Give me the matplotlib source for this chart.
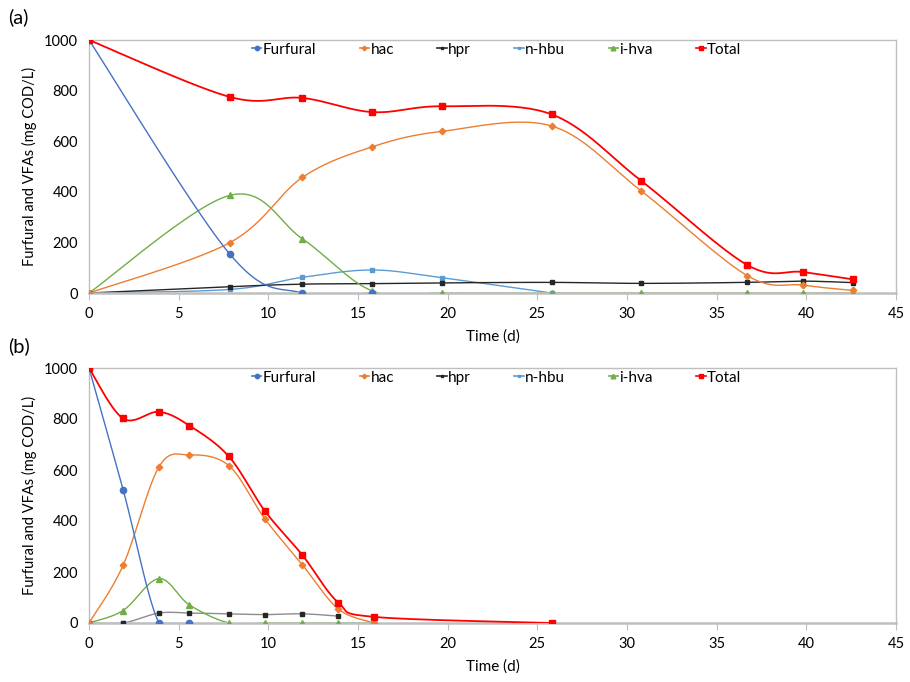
import numpy as np
import matplotlib
matplotlib.use("Agg")
import matplotlib.pyplot as plt
from matplotlib.lines import Line2D

plt.rcParams['font.family'] = ['Lato', 'DejaVu Sans']

# ---------------- Data: panel (a) ----------------
a_t = [0, 7.85, 11.9, 15.8, 19.7, 25.8, 30.8, 36.7, 39.8, 42.6]
a_furfural_t = [0, 7.85, 11.9, 15.8]
a_furfural = [1000, 154, 0, 0]
a_hac = [0, 199, 457, 578, 639, 660, 403, 69, 31, 10]
a_hpr = [0, 25, 35, 37, 40, 42, 38, 42, 47, 41]
a_nhbu_t = [0, 7.85, 11.9, 15.8, 19.7, 25.8]
a_nhbu = [0, 14, 62, 91, 60, 0]
a_ihva = [0, 386, 214, 8, 0, 0, 0, 0, 0, 0]
a_total = [1000, 775, 771, 715, 738, 706, 443, 111, 83, 54]

# ---------------- Data: panel (b) ----------------
b_t = [0, 1.9, 3.9, 5.6, 7.8, 9.8, 11.9, 13.9, 15.9, 25.8]
b_furfural_t = [0, 1.9, 3.9, 5.6]
b_furfural = [1000, 523, 0, 0]
b_hac_t = [0, 1.9, 3.9, 5.6, 7.8, 9.8, 11.9, 13.9, 15.9]
b_hac = [0, 226, 612, 659, 617, 409, 228, 55, 0]
b_hpr_t = [0, 1.9, 3.9, 5.6, 7.8, 9.8, 11.9, 13.9]
b_hpr = [0, 0, 39, 39, 36, 33, 36, 27]
b_nhbu_t = [0, 1.9, 3.9, 5.6]
b_nhbu = [0, 0, 0, 0]
b_ihva_t = [0, 1.9, 3.9, 5.6, 7.8, 9.8, 11.9, 13.9, 15.9]
b_ihva = [0, 49, 174, 71, 0, 0, 0, 0, 0]
b_total = [1000, 802, 828, 774, 653, 440, 266, 80, 24, 0]

names = ["Furfural", "hac", "hpr", "n-hbu", "i-hva", "Total"]
colors = ["#4472C4", "#ED7D31", "#262626", "#5B9BD5", "#70AD47", "#FF0000"]
markers = ["o", "D", "s", "s", "^", "s"]
msizes = [4.5, 3.3, 3.0, 3.0, 4.8, 5.0]


def smooth(x, y, n=30):
    """Excel-style smoothed line (Bezier through points)."""
    x = np.asarray(x, float)
    y = np.asarray(y, float)
    if len(x) < 3:
        return x, y
    P = np.column_stack([x, y])
    Pe = np.vstack([P[0], P, P[-1]])
    out = []
    s = np.linspace(0, 1, n)
    for i in range(len(P) - 1):
        p0, p1, p2, p3 = Pe[i], Pe[i + 1], Pe[i + 2], Pe[i + 3]
        c1 = p1 + (p2 - p0) / 6.0
        c2 = p2 - (p3 - p1) / 6.0
        seg = ((1 - s)[:, None] ** 3 * p1 + 3 * ((1 - s) ** 2 * s)[:, None] * c1
               + 3 * ((1 - s) * s ** 2)[:, None] * c2 + (s ** 3)[:, None] * p2)
        out.append(seg if i == 0 else seg[1:])
    out = np.vstack(out)
    return out[:, 0], out[:, 1]


fig = plt.figure(figsize=(9.1, 6.82), dpi=100)
W, H = 910.0, 682.0
ax_a = fig.add_axes([89 / W, 1 - 293 / H, 807 / W, 253 / H])
ax_b = fig.add_axes([89 / W, 1 - 623 / H, 807 / W, 255 / H])

panel_a = [(a_furfural_t, a_furfural), (a_t, a_hac), (a_t, a_hpr),
           (a_nhbu_t, a_nhbu), (a_t, a_ihva), (a_t, a_total)]
panel_b = [(b_furfural_t, b_furfural), (b_hac_t, b_hac), (b_hpr_t, b_hpr),
           (b_nhbu_t, b_nhbu), (b_ihva_t, b_ihva), (b_t, b_total)]

order = [3, 2, 4, 1, 0, 5]
for ax, series, label, ly in [(ax_a, panel_a, "(a)", 17), (ax_b, panel_b, "(b)", 346)]:
    for k in order:
        x, y = series[k]
        lw = 1.3 if k == 5 else 1.0
        col = colors[k]
        if ax is ax_b and k == 2:
            col = "#8C8C8C"
        xs, ys = smooth(x, y)
        ax.plot(xs, ys, color=col, lw=lw, zorder=2 + (k == 5))
        ax.plot(x, y, ls="none", marker=markers[k], ms=msizes[k],
                color=colors[k], zorder=4)
    ax.set_xlim(0, 45)
    ax.set_ylim(0, 1000)
    ax.set_xticks(range(0, 46, 5))
    ax.set_yticks(range(0, 1001, 200))
    for sp in ax.spines.values():
        sp.set_color("#BFBFBF")
        sp.set_linewidth(1.0)
    ax.spines['bottom'].set_linewidth(1.8)
    ax.tick_params(axis='x', direction='out', length=5, color="#BFBFBF",
                   labelsize=10.5, pad=5, labelcolor="black")
    ax.tick_params(axis='y', length=0, labelsize=10.5, pad=8, labelcolor="black")
    ax.set_xlabel("Time (d)", fontsize=11, labelpad=6)
    ax.set_ylabel("Furfural and VFAs (mg COD/L)", fontsize=10.5, labelpad=5)
    handles = [Line2D([0], [0], color=colors[k], lw=1.2, marker=markers[k],
                      ms=msizes[k] * 0.7) for k in range(6)]
    ax.legend(handles, names, loc="upper left", bbox_to_anchor=(0.202, 0.99),
              ncol=6, frameon=False, fontsize=11, handlelength=0.6,
              handletextpad=0.1, columnspacing=2.85, borderaxespad=0.0,
              borderpad=0.0)
    fig.text(8 / W, 1 - ly / H, label, fontsize=14.5, va="center", ha="left")

fig.savefig("out.png", dpi=100)
